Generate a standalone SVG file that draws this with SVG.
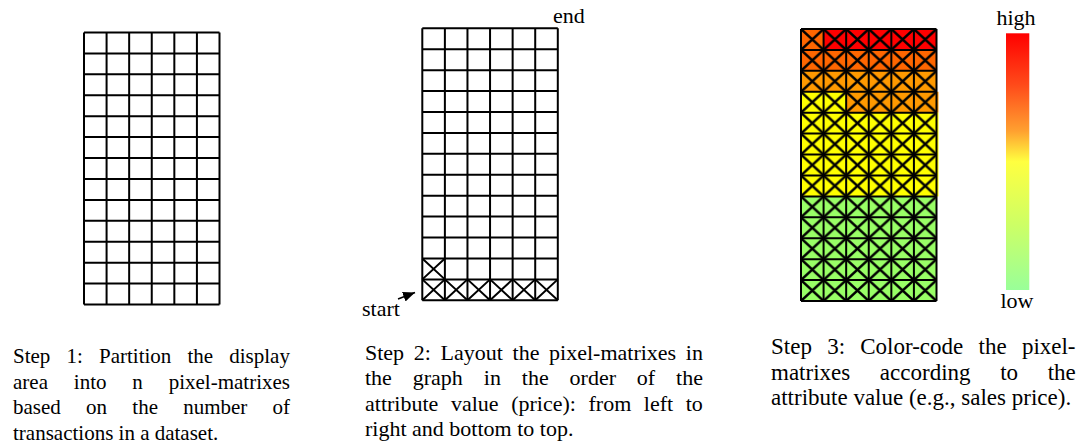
<svg xmlns="http://www.w3.org/2000/svg" xmlns:xlink="http://www.w3.org/1999/xlink" width="1082" height="446" viewBox="0 0 1082 446">
<style>
text{font-family:'Liberation Serif','Times New Roman',serif;font-size:22px;fill:#000}
#caption1 text{font-size:21px}
#caption3 text{font-size:23px}
.gl{fill:none;stroke:#000;stroke-width:2}
.xl{fill:none;stroke:#000;stroke-width:2}
</style>
<defs>
<path id="gridlines" class="gl" d="M0 0H135.5M0 20.923H135.5M0 41.846H135.5M0 62.769H135.5M0 83.692H135.5M0 104.615H135.5M0 125.538H135.5M0 146.462H135.5M0 167.385H135.5M0 188.308H135.5M0 209.231H135.5M0 230.154H135.5M0 251.077H135.5M0 272H135.5M0 0V272M22.583 0V272M45.167 0V272M67.75 0V272M90.333 0V272M112.917 0V272M135.5 0V272"/>
<pattern id="xp" x="801" y="29" width="22.583" height="20.923" patternUnits="userSpaceOnUse">
<path d="M0 0L22.583 20.923M22.583 0L0 20.923" stroke="#000" stroke-width="2.4" fill="none"/>
</pattern>
<linearGradient id="heat" x1="0" y1="0" x2="0" y2="1">
<stop offset="0" stop-color="#FF0000"/>
<stop offset="0.2" stop-color="#FF4A1A"/>
<stop offset="0.38" stop-color="#FFA030"/>
<stop offset="0.5" stop-color="#FFFF40"/>
<stop offset="0.75" stop-color="#CCFF66"/>
<stop offset="1" stop-color="#99FF99"/>
</linearGradient>
<marker id="ah" markerWidth="12" markerHeight="10" refX="12" refY="5" orient="auto" markerUnits="userSpaceOnUse">
<path d="M0 0L12 5L0 10z" fill="#000"/>
</marker>
</defs>
<rect width="1082" height="446" fill="#fff"/>

<g id="step1-grid">
<use xlink:href="#gridlines" href="#gridlines" transform="translate(84,32.5)"/>
</g>

<g id="step2-grid">
<use xlink:href="#gridlines" href="#gridlines" transform="translate(422.3,28.3)"/>
<path class="xl" transform="translate(422.3,28.3)" d="M0 251.077L22.583 272M22.583 251.077L0 272M22.583 251.077L45.167 272M45.167 251.077L22.583 272M45.167 251.077L67.75 272M67.75 251.077L45.167 272M67.75 251.077L90.333 272M90.333 251.077L67.75 272M90.333 251.077L112.917 272M112.917 251.077L90.333 272M112.917 251.077L135.5 272M135.5 251.077L112.917 272M0 230.154L22.583 251.077M22.583 230.154L0 251.077"/>
<text id="end-label" x="553" y="23">end</text>
<text id="start-label" x="362" y="316">start</text>
</g>

<g id="step3-grid">
<rect x="823.583" y="29" width="112.917" height="20.923" fill="#FF0000"/>
<rect x="801" y="29" width="22.583" height="20.923" fill="#FF6600"/>
<rect x="801" y="49.923" width="135.5" height="20.923" fill="#FF6600"/>
<rect x="801" y="70.846" width="135.5" height="20.923" fill="#FF9900"/>
<rect x="846.167" y="91.769" width="92.3" height="20.923" fill="#FF9900"/>
<rect x="801" y="91.769" width="45.167" height="20.923" fill="#FFFF00"/>
<rect x="801" y="112.692" width="137.5" height="83.693" fill="#FFFF00"/>
<rect x="801" y="196.385" width="135.5" height="104.615" fill="#99FF66"/>
<rect x="801" y="29" width="135.5" height="272" fill="url(#xp)"/>
<use xlink:href="#gridlines" href="#gridlines" transform="translate(801,29)"/>
</g>

<g id="colorbar">
<rect x="1006" y="33.3" width="23.3" height="256.7" fill="url(#heat)"/>
<text x="1016" y="25" text-anchor="middle">high</text>
<text x="1017" y="308" text-anchor="middle">low</text>
</g>

<g id="connectors">
<path d="M398 299L415 292.5" fill="none" stroke="#000" stroke-width="1.5" marker-end="url(#ah)"/>
</g>

<g id="caption1">
<text x="13" y="363" word-spacing="10.9">Step 1: Partition the display</text>
<text x="13" y="388.5" word-spacing="20.6">area into n pixel-matrixes</text>
<text x="13" y="414" word-spacing="20">based on the number of</text>
<text x="13" y="439.5">transactions in a dataset.</text>
</g>

<g id="caption2">
<text x="365" y="359.5" word-spacing="4.17">Step 2: Layout the pixel-matrixes in</text>
<text x="365" y="385" word-spacing="15.4">the graph in the order of the</text>
<text x="365" y="410.5" word-spacing="7.1">attribute value (price): from left to</text>
<text x="365" y="436">right and bottom to top.</text>
</g>

<g id="caption3">
<text x="771" y="354" word-spacing="9.5">Step 3: Color-code the pixel-</text>
<text x="771" y="379.5" word-spacing="23.9">matrixes according to the</text>
<text x="771" y="405">attribute value (e.g., sales price).</text>
</g>
</svg>
